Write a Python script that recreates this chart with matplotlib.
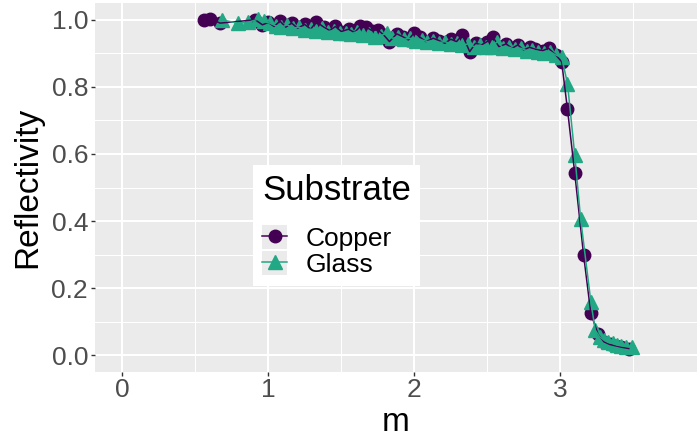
import matplotlib
matplotlib.use("Agg")
import matplotlib.pyplot as plt
from matplotlib.patches import Rectangle
from matplotlib.legend_handler import HandlerLine2D

plt.rcParams['font.family'] = ['Liberation Sans', 'DejaVu Sans']

# ---- data ----
m_copper = [0.56, 0.60, 0.67, 0.91, 0.96, 1.00, 1.04, 1.08, 1.12, 1.16, 1.20, 1.25,
            1.29, 1.33, 1.38, 1.42, 1.46, 1.50, 1.55, 1.59, 1.63, 1.67, 1.71, 1.75,
            1.79, 1.83, 1.88, 1.92, 1.96, 2.00, 2.04, 2.08, 2.13, 2.17, 2.21, 2.25,
            2.29, 2.33, 2.38, 2.42, 2.46, 2.50, 2.54, 2.58, 2.63, 2.67, 2.71, 2.75,
            2.79, 2.83, 2.88, 2.92, 2.97, 3.01, 3.05, 3.10, 3.16, 3.21, 3.26, 3.30,
            3.34, 3.38, 3.42, 3.47]
r_copper = [0.998, 1.003, 0.990, 1.000, 0.985, 0.992, 0.980, 0.996, 0.978, 0.990, 0.975, 0.986,
            0.972, 0.994, 0.978, 0.968, 0.980, 0.965, 0.972, 0.962, 0.980, 0.978, 0.968, 0.970,
            0.955, 0.935, 0.958, 0.950, 0.940, 0.962, 0.948, 0.935, 0.945, 0.938, 0.930, 0.942,
            0.935, 0.955, 0.905, 0.930, 0.925, 0.935, 0.948, 0.920, 0.928, 0.915, 0.925, 0.910,
            0.918, 0.912, 0.908, 0.915, 0.895, 0.875, 0.733, 0.542, 0.300, 0.125, 0.062, 0.040,
            0.032, 0.028, 0.024, 0.020]

m_glass = [0.68, 0.79, 0.86, 0.93, 0.97, 1.01, 1.05, 1.09, 1.13, 1.17, 1.21, 1.25,
           1.29, 1.33, 1.37, 1.41, 1.45, 1.49, 1.53, 1.57, 1.61, 1.65, 1.69, 1.73,
           1.77, 1.81, 1.85, 1.89, 1.93, 1.97, 2.01, 2.05, 2.09, 2.13, 2.17, 2.21,
           2.25, 2.29, 2.33, 2.37, 2.41, 2.45, 2.49, 2.53, 2.57, 2.61, 2.65, 2.69,
           2.73, 2.77, 2.81, 2.85, 2.89, 2.93, 2.97, 3.01, 3.05, 3.10, 3.14, 3.21,
           3.24, 3.27, 3.30, 3.33, 3.36, 3.39, 3.42, 3.45, 3.49]
r_glass = [1.000, 0.990, 0.992, 1.002, 0.995, 0.990, 0.982, 0.978, 0.985, 0.975, 0.978, 0.970,
           0.972, 0.968, 0.975, 0.965, 0.968, 0.960, 0.962, 0.958, 0.965, 0.955, 0.958, 0.950,
           0.952, 0.960, 0.945, 0.948, 0.942, 0.945, 0.938, 0.940, 0.935, 0.938, 0.932, 0.935,
           0.928, 0.930, 0.925, 0.928, 0.920, 0.925, 0.918, 0.920, 0.935, 0.915, 0.918, 0.912,
           0.915, 0.908, 0.910, 0.905, 0.902, 0.905, 0.895, 0.888, 0.810, 0.596, 0.407, 0.160,
           0.075, 0.055, 0.045, 0.038, 0.035, 0.030, 0.028, 0.026, 0.024]

col_copper = '#440154'
col_glass = '#22A884'


class KeyHandler(HandlerLine2D):
    # grey key background like ggplot
    def create_artists(self, legend, orig_handle, xdescent, ydescent,
                       width, height, fontsize, trans):
        arts = super().create_artists(legend, orig_handle, xdescent, ydescent,
                                      width, height, fontsize, trans)
        bg = Rectangle((-xdescent, -ydescent), width, height, facecolor='#EBEBEB',
                       edgecolor='none', transform=trans)
        return [bg] + list(arts)


fig = plt.figure(figsize=(7, 4.4), dpi=100)
ax = fig.add_axes([95 / 700, 68 / 440, 602 / 700, 369 / 440])
ax.set_facecolor('#EBEBEB')
for s in ax.spines.values():
    s.set_visible(False)

ax.set_xlim(-0.1875, 3.9375)
ax.set_ylim(-0.05, 1.05)
ax.set_xticks([0, 1, 2, 3])
ax.set_yticks([0.0, 0.2, 0.4, 0.6, 0.8, 1.0])
ax.set_yticklabels(['0.0', '0.2', '0.4', '0.6', '0.8', '1.0'])
ax.set_xticks([0.5, 1.5, 2.5, 3.5], minor=True)
ax.set_yticks([0.1, 0.3, 0.5, 0.7, 0.9], minor=True)
ax.grid(True, which='major', color='white', linewidth=1.5)
ax.grid(True, which='minor', color='white', linewidth=0.75)
ax.set_axisbelow(True)
ax.tick_params(which='minor', length=0)
ax.tick_params(which='major', length=3, width=1.0, color='#333333',
               labelsize=19, labelcolor='#4D4D4D')
ax.tick_params(axis='x', pad=1)
ax.tick_params(axis='y', pad=2)

ax.plot(m_copper, r_copper, 'o', color=col_copper, markersize=9, zorder=2)
ax.plot(m_glass, r_glass, '^', color=col_glass, markersize=10.5, zorder=2.1)
ax.plot(m_copper, r_copper, '-', color=col_copper, linewidth=1.1, zorder=3)
ax.plot(m_glass, r_glass, '-', color=col_glass, linewidth=1.1, zorder=3.1)

ax.set_xlabel('m', fontsize=24, labelpad=4)
ax.set_ylabel('Reflectivity', fontsize=24, labelpad=6)

h_cu, = ax.plot([], [], '-o', color=col_copper, markersize=9, linewidth=1.1)
h_gl, = ax.plot([], [], '-^', color=col_glass, markersize=10.5, linewidth=1.1)
leg = ax.legend([h_cu, h_gl], ['Copper', 'Glass'], title='Substrate',
                loc='upper left', bbox_to_anchor=(253 / 700, 1 - 165 / 440),
                bbox_transform=fig.transFigure, borderaxespad=0,
                fontsize=19, title_fontsize=25,
                frameon=True, facecolor='white', edgecolor='none', framealpha=1,
                fancybox=False, borderpad=0.35, handlelength=0.95, handleheight=1.0,
                handletextpad=0.7, labelspacing=0.0, alignment='left',
                handler_map={h_cu: KeyHandler(), h_gl: KeyHandler()})
leg._legend_box.sep = 13

fig.savefig('out.png', dpi=100)
